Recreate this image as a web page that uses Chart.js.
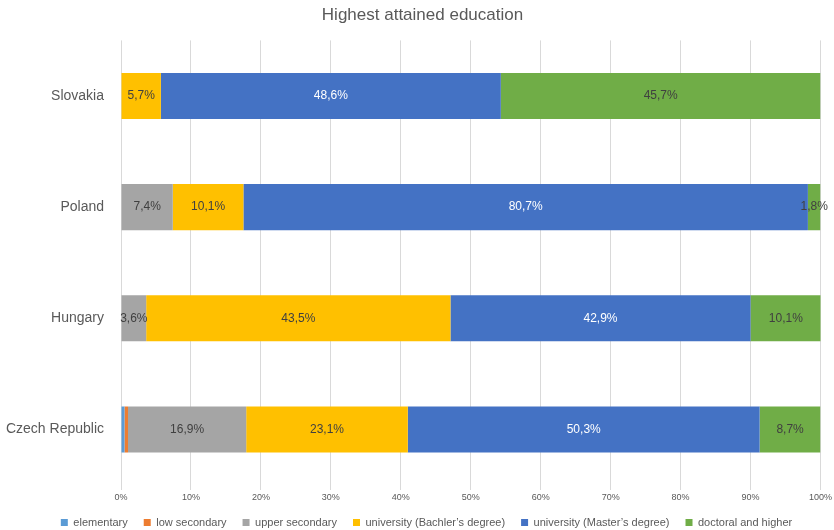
<!DOCTYPE html>
<html>
<head>
<meta charset="utf-8">
<script src="https://cdn.jsdelivr.net/npm/chart.js@4"></script>
<style>
  html, body { margin: 0; padding: 0; background: #fff; }
  #wrap { width: 834px; height: 530px; position: relative; }
</style>
</head>
<body>
<div id="wrap"><canvas id="grafico"></canvas></div>
<script>
'use strict';

// Dati (percentuali)
const countries     = ['Slovakia', 'Poland', 'Hungary', 'Czech Republic'];
const elementary    = [0, 0, 0, 0.5];
const lowSecondary  = [0, 0, 0, 0.5];
const upperSecondary = [0, 7.4, 3.6, 16.9];
const bachelor      = [5.7, 10.1, 43.5, 23.1];
const master        = [48.6, 80.7, 42.9, 50.3];
const doctoral      = [45.7, 1.8, 10.1, 8.7];
const xTicks        = [0, 10, 20, 30, 40, 50, 60, 70, 80, 90, 100];

const TEXT = '#595959';
const FONT = "'Liberation Sans', Arial, sans-serif";

// etichette dentro le barre (nessun plugin datalabels disponibile)
const barLabels = {
  id: 'barLabels',
  afterDatasetsDraw(chart) {
    const ctx = chart.ctx;
    ctx.save();
    ctx.font = '12px ' + FONT;
    ctx.textAlign = 'center';
    ctx.textBaseline = 'middle';
    chart.data.datasets.forEach((ds, i) => {
      const meta = chart.getDatasetMeta(i);
      meta.data.forEach((bar, j) => {
        const v = ds.data[j];
        if (!v || v < 1) return;
        const x = (bar.x + bar.base) / 2;
        ctx.fillStyle = ds.labelColor;
        ctx.fillText(v.toFixed(1).replace('.', ',') + '%', x, bar.y);
      });
    });
    ctx.restore();
  }
};

// sposta legenda e titolo un po' a destra, come nell'originale
const boxShift = {
  id: 'boxShift',
  afterLayout(chart) {
    if (chart.legend) { chart.legend.left += 16; chart.legend.right += 16; }
    if (chart.titleBlock) { chart.titleBlock.left += 12; chart.titleBlock.right += 12; }
  }
};

function ds(label, data, color, labelColor) {
  return { label, data, backgroundColor: color, borderWidth: 0, labelColor,
           barPercentage: 0.414, categoryPercentage: 1 };
}

new Chart(document.getElementById('grafico'), {
  type: 'bar',
  data: {
    labels: countries,
    datasets: [
      ds('elementary', elementary, '#5B9BD5', '#404040'),
      ds('low secondary', lowSecondary, '#ED7D31', '#404040'),
      ds('upper secondary', upperSecondary, '#A5A5A5', '#404040'),
      ds('university (Bachler\u2019s degree)', bachelor, '#FFC000', '#404040'),
      ds('university (Master\u2019s degree)', master, '#4472C4', '#ffffff'),
      ds('doctoral and higher', doctoral, '#70AD47', '#404040')
    ]
  },
  options: {
    indexAxis: 'y',
    responsive: true,
    maintainAspectRatio: false,
    animation: false,
    layout: { padding: { left: 0, right: 13, top: 0, bottom: -8 } },
    plugins: {
      title: {
        display: true,
        text: 'Highest attained education',
        color: TEXT,
        font: { family: FONT, size: 17, weight: 'normal' },
        padding: { top: 5, bottom: 15 }
      },
      legend: {
        position: 'bottom',
        labels: {
          color: TEXT,
          font: { family: FONT, size: 11 },
          boxWidth: 7, boxHeight: 7,
          padding: 16
        }
      },
      tooltip: { enabled: false }
    },
    scales: {
      x: {
        stacked: true,
        min: 0, max: 100,
        afterBuildTicks: s => { s.ticks = xTicks.map(v => ({ value: v })); },
        afterFit: s => { s.height = 16; },
        ticks: {
          color: TEXT,
          font: { family: FONT, size: 9 },
          padding: 2,
          callback: v => v + '%'
        },
        grid: { color: '#D9D9D9', tickLength: 5, drawOnChartArea: true },
        border: { display: false }
      },
      y: {
        stacked: true,
        afterFit: s => { s.width = 121; },
        ticks: { color: TEXT, font: { family: FONT, size: 14 }, padding: 9 },
        grid: { display: false },
        border: { display: false }
      }
    }
  },
  plugins: [barLabels, boxShift]
});
</script>
</body>
</html>
